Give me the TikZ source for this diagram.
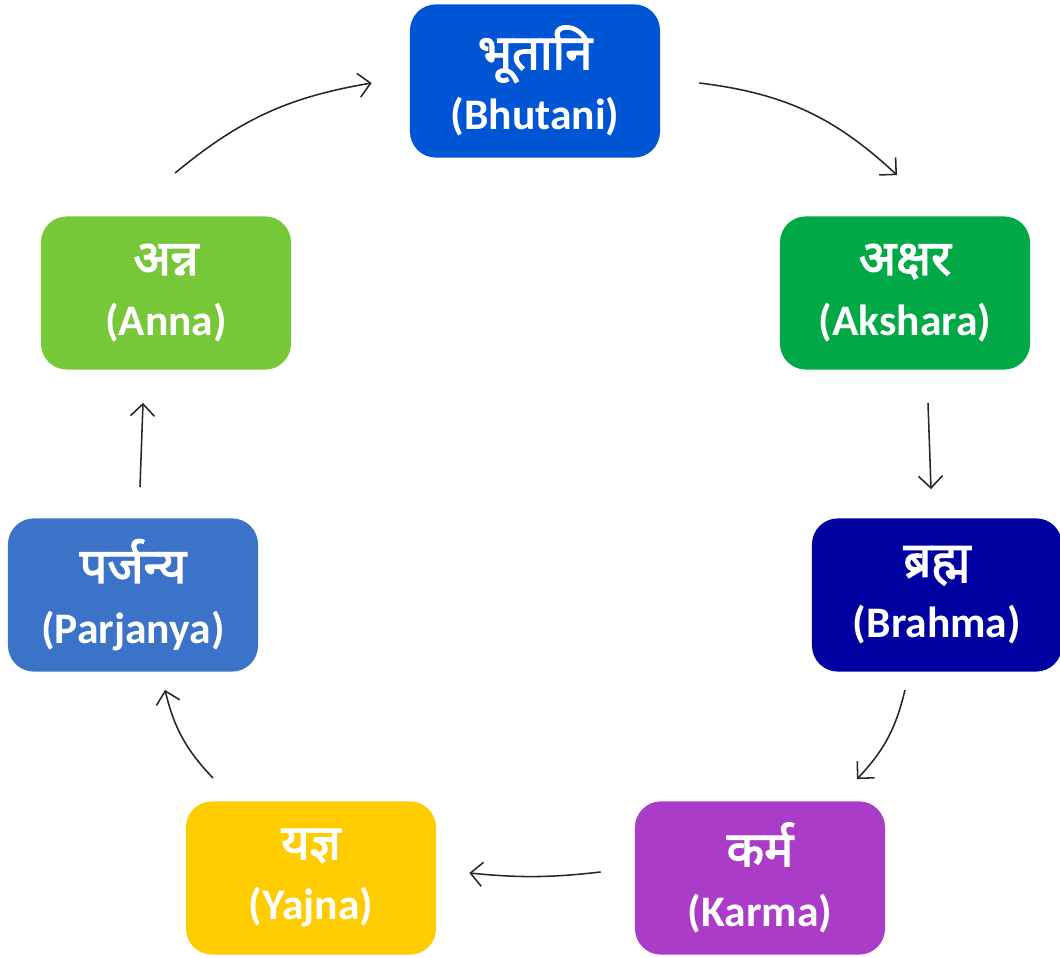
\documentclass[tikz,border=0pt]{standalone}
\usepackage{fontspec}
\setmainfont{Carlito}
\newfontfamily\deva[Script=Devanagari,Scale=1.12,BoldFont={Noto Sans},BoldFeatures={FakeBold=2.5}]{Noto Sans}
\usetikzlibrary{arrows.meta,positioning}

\definecolor{bhutanicol}{RGB}{0,85,212}
\definecolor{aksharacol}{RGB}{0,168,70}
\definecolor{brahmacol}{RGB}{0,0,160}
\definecolor{karmacol}{RGB}{170,60,200}
\definecolor{yajnacol}{RGB}{255,204,0}
\definecolor{parjanyacol}{RGB}{59,115,200}
\definecolor{annacol}{RGB}{119,200,56}

\newcommand{\stagetext}[2]{{\deva #1}\\{\rmfamily\bfseries #2}}

\begin{document}
\begin{tikzpicture}[x=0.025cm,y=-0.025cm,
	  every node/.style={align=center,text=white,draw=none,font=\bfseries\fontsize{31}{43}\selectfont},
	  stage/.style={rounded corners=0.65cm,minimum width=6.25cm,minimum height=3.83cm,inner sep=0pt},
	  flow/.style={-{Straight Barb[length=3mm,width=6mm]},line width=1.1pt,draw=black!85}]

	  \useasboundingbox (0,0) rectangle (1060,958);

	  % the seven stages of the cycle
	  \node[stage,fill=bhutanicol] (bhutani) at (535,81) {\stagetext{भूतानि}{(Bhutani)}};
	  \node[stage,fill=aksharacol] (akshara) at (905,293) {\stagetext{अक्षर}{(Akshara)}};
	  \node[stage,fill=brahmacol] (brahma) at (937,595) {\stagetext{ब्रह्म}{(Brahma)}};
	  \node[stage,fill=karmacol] (karma) at (760,878) {\stagetext{कर्म}{(Karma)}};
	  \node[stage,fill=yajnacol] (yajna) at (311,878) {\stagetext{यज्ञ}{(Yajna)}};
	  \node[stage,fill=parjanyacol] (parjanya) at (133,595) {\stagetext{पर्जन्य}{(Parjanya)}};
	  \node[stage,fill=annacol] (anna) at (166,293) {\stagetext{अन्न}{(Anna)}};

	  \draw[flow] ([shift={(39,2)}]bhutani.east) to[bend left=18] ([shift={(-8,-41)}]akshara.north);
	  \draw[flow] ([shift={(23,33)}]akshara.south) -- ([shift={(-6,-29)}]brahma.north);
	  \draw[flow] ([shift={(-32,18)}]brahma.south) to[bend left=15] ([shift={(97,-22)}]karma.north);
	  \draw[flow] ([shift={(-34,-6)}]karma.west) to[bend left=6] ([shift={(33,-5)}]yajna.east);
	  \draw[flow] ([shift={(-98,-23)}]yajna.north) to[bend left=15] ([shift={(32,18)}]parjanya.south);
	  \draw[flow] ([shift={(7,-31)}]parjanya.north) -- ([shift={(-23,33)}]anna.south);
	  \draw[flow] ([shift={(9,-43)}]anna.north) to[bend left=15] ([shift={(-38,2)}]bhutani.west);
\end{tikzpicture}
\end{document}
